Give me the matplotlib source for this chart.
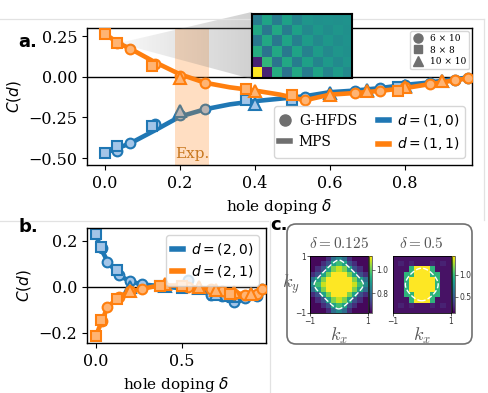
import numpy as np
import matplotlib
matplotlib.use('Agg')
import matplotlib.pyplot as plt
from matplotlib.lines import Line2D
from matplotlib.patches import FancyBboxPatch, Polygon

plt.rcParams['font.family'] = 'serif'
plt.rcParams['font.serif'] = ['DejaVu Serif']
plt.rcParams['mathtext.fontset'] = 'dejavusans'
plt.rcParams['axes.linewidth'] = 1.0

W, H = 488, 393

BLUE, ORANGE = '#1f77b4', '#ff7f0e'
BLUE_L, ORANGE_L = '#a3c5e8', '#ffb473'
GRAY = '#6f6f6f'
TXT = '#555555'

# doping values: MPS line and G-HFDS on three lattices
dop_mps = [0.0, 0.033, 0.067, 0.133, 0.2, 0.267, 0.333, 0.4, 0.467, 0.533,
           0.6, 0.667, 0.733, 0.8, 0.867, 0.933, 0.967]
dop_6x10 = [0.033, 0.067, 0.133, 0.2, 0.267, 0.533, 0.667, 0.733, 0.8, 0.867, 0.933, 0.967]
dop_8x8 = [0.0, 0.031, 0.125, 0.375, 0.5, 0.781]
dop_10x10 = [0.2, 0.4, 0.6, 0.7, 0.8, 0.9]

# panel a, d=(1,0)
c10_mps = [-0.47, -0.44, -0.41, -0.33, -0.245, -0.20, -0.17, -0.15, -0.135, -0.12,
           -0.095, -0.085, -0.07, -0.05, -0.035, -0.015, -0.005]
c10_6x10 = [-0.455, -0.41, -0.293, -0.238, -0.197, -0.125, -0.09, -0.07, -0.05, -0.038, -0.018, -0.005]
c10_8x8 = [-0.47, -0.425, -0.30, -0.146, -0.144, -0.06]
c10_10x10 = [-0.21, -0.17, -0.10, -0.08, -0.055, -0.025]
# panel a, d=(1,1)
c11_mps = [0.265, 0.21, 0.173, 0.09, 0.015, -0.037, -0.065, -0.085, -0.11, -0.145,
           -0.11, -0.10, -0.087, -0.07, -0.045, -0.022, -0.01]
c11_6x10 = [0.21, 0.173, 0.08, 0.005, -0.037, -0.145, -0.10, -0.087, -0.065, -0.043, -0.02, -0.01]
c11_8x8 = [0.265, 0.207, 0.065, -0.075, -0.11, -0.085]
c11_10x10 = [-0.005, -0.09, -0.11, -0.088, -0.065, -0.028]

# panel b, d=(2,0)
c20_mps = [0.225, 0.16, 0.11, 0.05, 0.022, 0.01, 0.005, 0.0, -0.005, -0.01,
           -0.015, -0.035, -0.04, -0.06, -0.05, -0.04, -0.015]
c20_6x10 = [0.17, 0.108, 0.052, 0.026, 0.012, 0.03, -0.035, -0.04, -0.068, -0.05, -0.04, -0.012]
c20_8x8 = [0.228, 0.174, 0.073, 0.005, -0.005, -0.04]
c20_10x10 = [0.0, 0.005, -0.005, -0.03, -0.04, -0.03]
# panel b, d=(2,1)
c21_mps = [-0.215, -0.15, -0.09, -0.045, -0.02, -0.01, 0.0, 0.005, 0.005, 0.0,
           -0.005, -0.01, -0.02, -0.025, -0.035, -0.03, -0.01]
c21_6x10 = [-0.15, -0.089, -0.045, -0.02, -0.01, 0.0, -0.01, -0.02, -0.03, -0.035, -0.03, -0.01]
c21_8x8 = [-0.216, -0.147, -0.055, 0.005, 0.005, -0.03]
c21_10x10 = [-0.02, 0.012, 0.0, -0.015, -0.025, -0.03]

exp_range = (0.188, 0.277)

# inset: spin correlation map on the 6x10 lattice (colour level 0..1), bottom row first
inset_vals = [
    [1.00, 0.10, 0.62, 0.38, 0.60, 0.42, 0.58, 0.45, 0.55, 0.47],
    [0.10, 0.66, 0.38, 0.60, 0.42, 0.57, 0.45, 0.54, 0.48, 0.52],
    [0.62, 0.38, 0.60, 0.40, 0.58, 0.44, 0.55, 0.47, 0.52, 0.50],
    [0.40, 0.60, 0.40, 0.58, 0.43, 0.55, 0.47, 0.53, 0.49, 0.51],
    [0.60, 0.40, 0.60, 0.42, 0.57, 0.47, 0.53, 0.49, 0.52, 0.50],
    [0.42, 0.58, 0.42, 0.57, 0.45, 0.52, 0.50, 0.51, 0.50, 0.51],
]

# panel c: momentum distributions, top row first
nk_left_rows = [
    "00013431000",
    "00125652100",
    "01257875210",
    "12579997521",
    "35799999753",
    "46899999864",
    "35799999753",
    "12579997521",
    "01257875210",
    "00125652100",
    "00013431000",
]
nk_left_levels = {str(i): 0.64 + 0.055 * i for i in range(10)}
nk_right_rows = [
    "...........",
    ".:.:...:.:.",
    "...gyyyg...",
    "..ggyyygg..",
    "..gyyyyyg..",
    "..gyyyyyg..",
    "..gyyyyyg..",
    "..ggyyygg..",
    "...gyyyg...",
    ".:.:...:.:.",
    "...........",
]
nk_right_levels = {'.': 0.20, ':': 0.26, 'g': 0.97, 'y': 1.42}
fermi_mu = [0.1, 0.78]
doping_c = ['0.125', '0.5']
cbar_range = [(0.63, 1.12), (0.14, 1.42)]
cbar_ticks = [[0.8, 1.0], [0.5, 1.0]]

fig = plt.figure(figsize=(W / 100, H / 100), dpi=100)


def draw_series(ax, mps, c6, c8, c10, col, light, z):
    ax.plot(dop_mps, mps, color=col, lw=3.3, zorder=z, solid_capstyle='round')
    kw = dict(ls='none', mfc=light, mec=col, mew=1.5, zorder=z + 0.1)
    ax.plot(dop_6x10, c6, marker='o', ms=7, **kw)
    ax.plot(dop_10x10, c10, marker='^', ms=8, **kw)
    ax.plot(dop_8x8, c8, marker='s', ms=7, **kw)


# ---- panel a
ax_a = fig.add_axes([87 / W, 1 - 165 / H, 385 / W, 137 / H], zorder=1)
ax_a.axhline(0, color='k', lw=1, zorder=1)
draw_series(ax_a, c10_mps, c10_6x10, c10_8x8, c10_10x10, BLUE, BLUE_L, 2)
ax_a.axvspan(*exp_range, color=ORANGE, alpha=0.25, lw=0, zorder=2.5)
draw_series(ax_a, c11_mps, c11_6x10, c11_8x8, c11_10x10, ORANGE, ORANGE_L, 3)
ax_a.text(sum(exp_range) / 2, -0.478, 'Exp.', color='#c8771e', fontsize=11,
          ha='center', va='center', zorder=4)
ax_a.set_xlim(-0.048, 0.979)
ax_a.set_ylim(-0.543, 0.30)
ax_a.set_xticks([0, 0.2, 0.4, 0.6, 0.8])
ax_a.set_yticks([-0.5, -0.25, 0, 0.25])
ax_a.tick_params(labelsize=11.5)
ax_a.set_xlabel(r'hole doping $\delta$', fontsize=11)
ax_a.set_ylabel(r'$C(d)$', fontsize=11)

size_handles = [Line2D([], [], ls='none', marker=m, color=GRAY, ms=s)
                for m, s in [('o', 6.5), ('s', 6), ('^', 7.5)]]
leg1 = ax_a.legend(size_handles, ['6 × 10', '8 × 8', '10 × 10'], loc='upper right',
                   fontsize=6.5, handlelength=1.0, handletextpad=0.8, labelspacing=0.3,
                   borderpad=0.35, borderaxespad=0.3)
ax_a.add_artist(leg1)
main_handles = [Line2D([], [], ls='none', marker='o', color=GRAY, ms=8),
                Line2D([], [], color=GRAY, lw=4),
                Line2D([], [], color=BLUE, lw=4),
                Line2D([], [], color=ORANGE, lw=4)]
ax_a.legend(main_handles, ['G-HFDS', 'MPS', r'$d=(1,0)$', r'$d=(1,1)$'], ncol=2,
            loc='lower right', fontsize=10, handlelength=0.8, columnspacing=1.5,
            handletextpad=0.6, labelspacing=0.5)

# ---- inset
ax_in = fig.add_axes([251.7 / W, 1 - 78 / H, 100.6 / W, 64 / H], zorder=5)
ax_in.imshow(inset_vals, cmap='viridis', vmin=0, vmax=1, origin='lower', aspect='auto')
ax_in.set_xticks([])
ax_in.set_yticks([])
for sp in ax_in.spines.values():
    sp.set_linewidth(1.5)

# ---- panel b
ax_b = fig.add_axes([87 / W, 1 - 343 / H, 179 / W, 115 / H], zorder=1)
ax_b.axhline(0, color='k', lw=1, zorder=1)
draw_series(ax_b, c20_mps, c20_6x10, c20_8x8, c20_10x10, BLUE, BLUE_L, 2)
draw_series(ax_b, c21_mps, c21_6x10, c21_8x8, c21_10x10, ORANGE, ORANGE_L, 3)
ax_b.set_xlim(-0.052, 0.988)
ax_b.set_ylim(-0.245, 0.255)
ax_b.set_xticks([0, 0.5])
ax_b.set_yticks([-0.2, 0, 0.2])
ax_b.tick_params(labelsize=11.5)
ax_b.set_xlabel(r'hole doping $\delta$', fontsize=11)
ax_b.set_ylabel(r'$C(d)$', fontsize=11)
ax_b.legend([Line2D([], [], color=BLUE, lw=4), Line2D([], [], color=ORANGE, lw=4)],
            [r'$d=(2,0)$', r'$d=(2,1)$'], loc='upper right', fontsize=10,
            handlelength=0.8, handletextpad=0.6, labelspacing=0.4)

# ---- panel c
kgrid = np.linspace(-1, 1, 241)
KX, KY = np.meshgrid(kgrid, kgrid)
band = np.cos(np.pi * KX) + np.cos(np.pi * KY)
maps = [[[nk_left_levels[ch] for ch in row] for row in nk_left_rows],
        [[nk_right_levels[ch] for ch in row] for row in nk_right_rows]]
img_left = [310, 393]
for i in range(2):
    ax = fig.add_axes([img_left[i] / W, 1 - 313 / H, 57.5 / W, 57 / H], zorder=1)
    vmin, vmax = cbar_range[i]
    im = ax.imshow(maps[i], cmap='viridis', vmin=vmin, vmax=vmax,
                   extent=[-1, 1, -1, 1], aspect='auto', interpolation='nearest')
    ax.contour(KX, KY, band, levels=[fermi_mu[i]], colors='white',
               linestyles='--', linewidths=1.0)
    ax.set_xticks([-1, 1])
    ax.set_yticks([-1, 1] if i == 0 else [])
    ax.tick_params(labelsize=5.5, length=2, width=0.6, pad=1, colors='#333333')
    for t in ax.get_xticklabels() + ax.get_yticklabels():
        t.set_fontfamily('DejaVu Sans')
    for sp in ax.spines.values():
        sp.set_linewidth(0.6)
    ax.set_title(r'$\delta = ' + doping_c[i] + '$', fontsize=11, color=TXT,
                 math_fontfamily='cm', pad=6)
    ax.set_xlabel(r'$k_x$', fontsize=13, color=TXT, math_fontfamily='cm', labelpad=0)
    if i == 0:
        ax.set_ylabel(r'$k_y$', fontsize=13, color=TXT, math_fontfamily='cm',
                      rotation=0, labelpad=3, va='center')
    cax = fig.add_axes([(img_left[i] + 59) / W, 1 - 313 / H, 3 / W, 57 / H], zorder=1)
    cb = fig.colorbar(im, cax=cax, ticks=cbar_ticks[i])
    cb.outline.set_linewidth(0.4)
    cax.tick_params(labelsize=5.5, length=2, width=0.5, pad=1, colors='#333333')
    for t in cax.get_yticklabels():
        t.set_fontfamily('DejaVu Sans')

# ---- overlay in pixel units: wedge to inset, panel frames
ov = fig.add_axes([0, 0, 1, 1], zorder=3)
ov.axis('off')
apex = ax_a.transData.transform((dop_8x8[1], c11_8x8[1]))
x0 = 251.7
ytop, ybot = H - 12, H - 79
verts = [(apex[0] + 2, apex[1]), (x0, ytop), (x0, ybot)]
grad = np.zeros((2, 60, 4))
grad[..., :3] = 0.45
grad[..., 3] = np.linspace(0.05, 0.33, 60)[None, :]
wimg = ov.imshow(grad, extent=(apex[0], x0, ybot, ytop), origin='lower',
                 aspect='auto', interpolation='bilinear')
wimg.set_clip_path(Polygon(verts, closed=True, transform=ov.transData))
frame_kw = dict(color='#e2e2e2', lw=0.9)
ov.plot([0, 484], [H - 19, H - 19], **frame_kw)
ov.plot([484, 484], [H - 19, H - 220], **frame_kw)
ov.plot([0, 268], [H - 221, H - 221], **frame_kw)
ov.plot([270, 270], [H - 221, 0], **frame_kw)
ov.add_patch(FancyBboxPatch((287, H - 344), 185, 120,
                            boxstyle='round,pad=0,rounding_size=9',
                            fc='none', ec='#707070', lw=1.2))
ov.set_xlim(0, W)
ov.set_ylim(0, H)

lab_kw = dict(fontsize=13, fontweight='bold', family='DejaVu Sans', va='baseline')
fig.text(18 / W, 1 - 47 / H, 'a.', **lab_kw)
fig.text(19 / W, 1 - 232 / H, 'b.', **lab_kw)
fig.text(270 / W, 1 - 230 / H, 'c.', **lab_kw)

fig.savefig('out.png', dpi=100)
